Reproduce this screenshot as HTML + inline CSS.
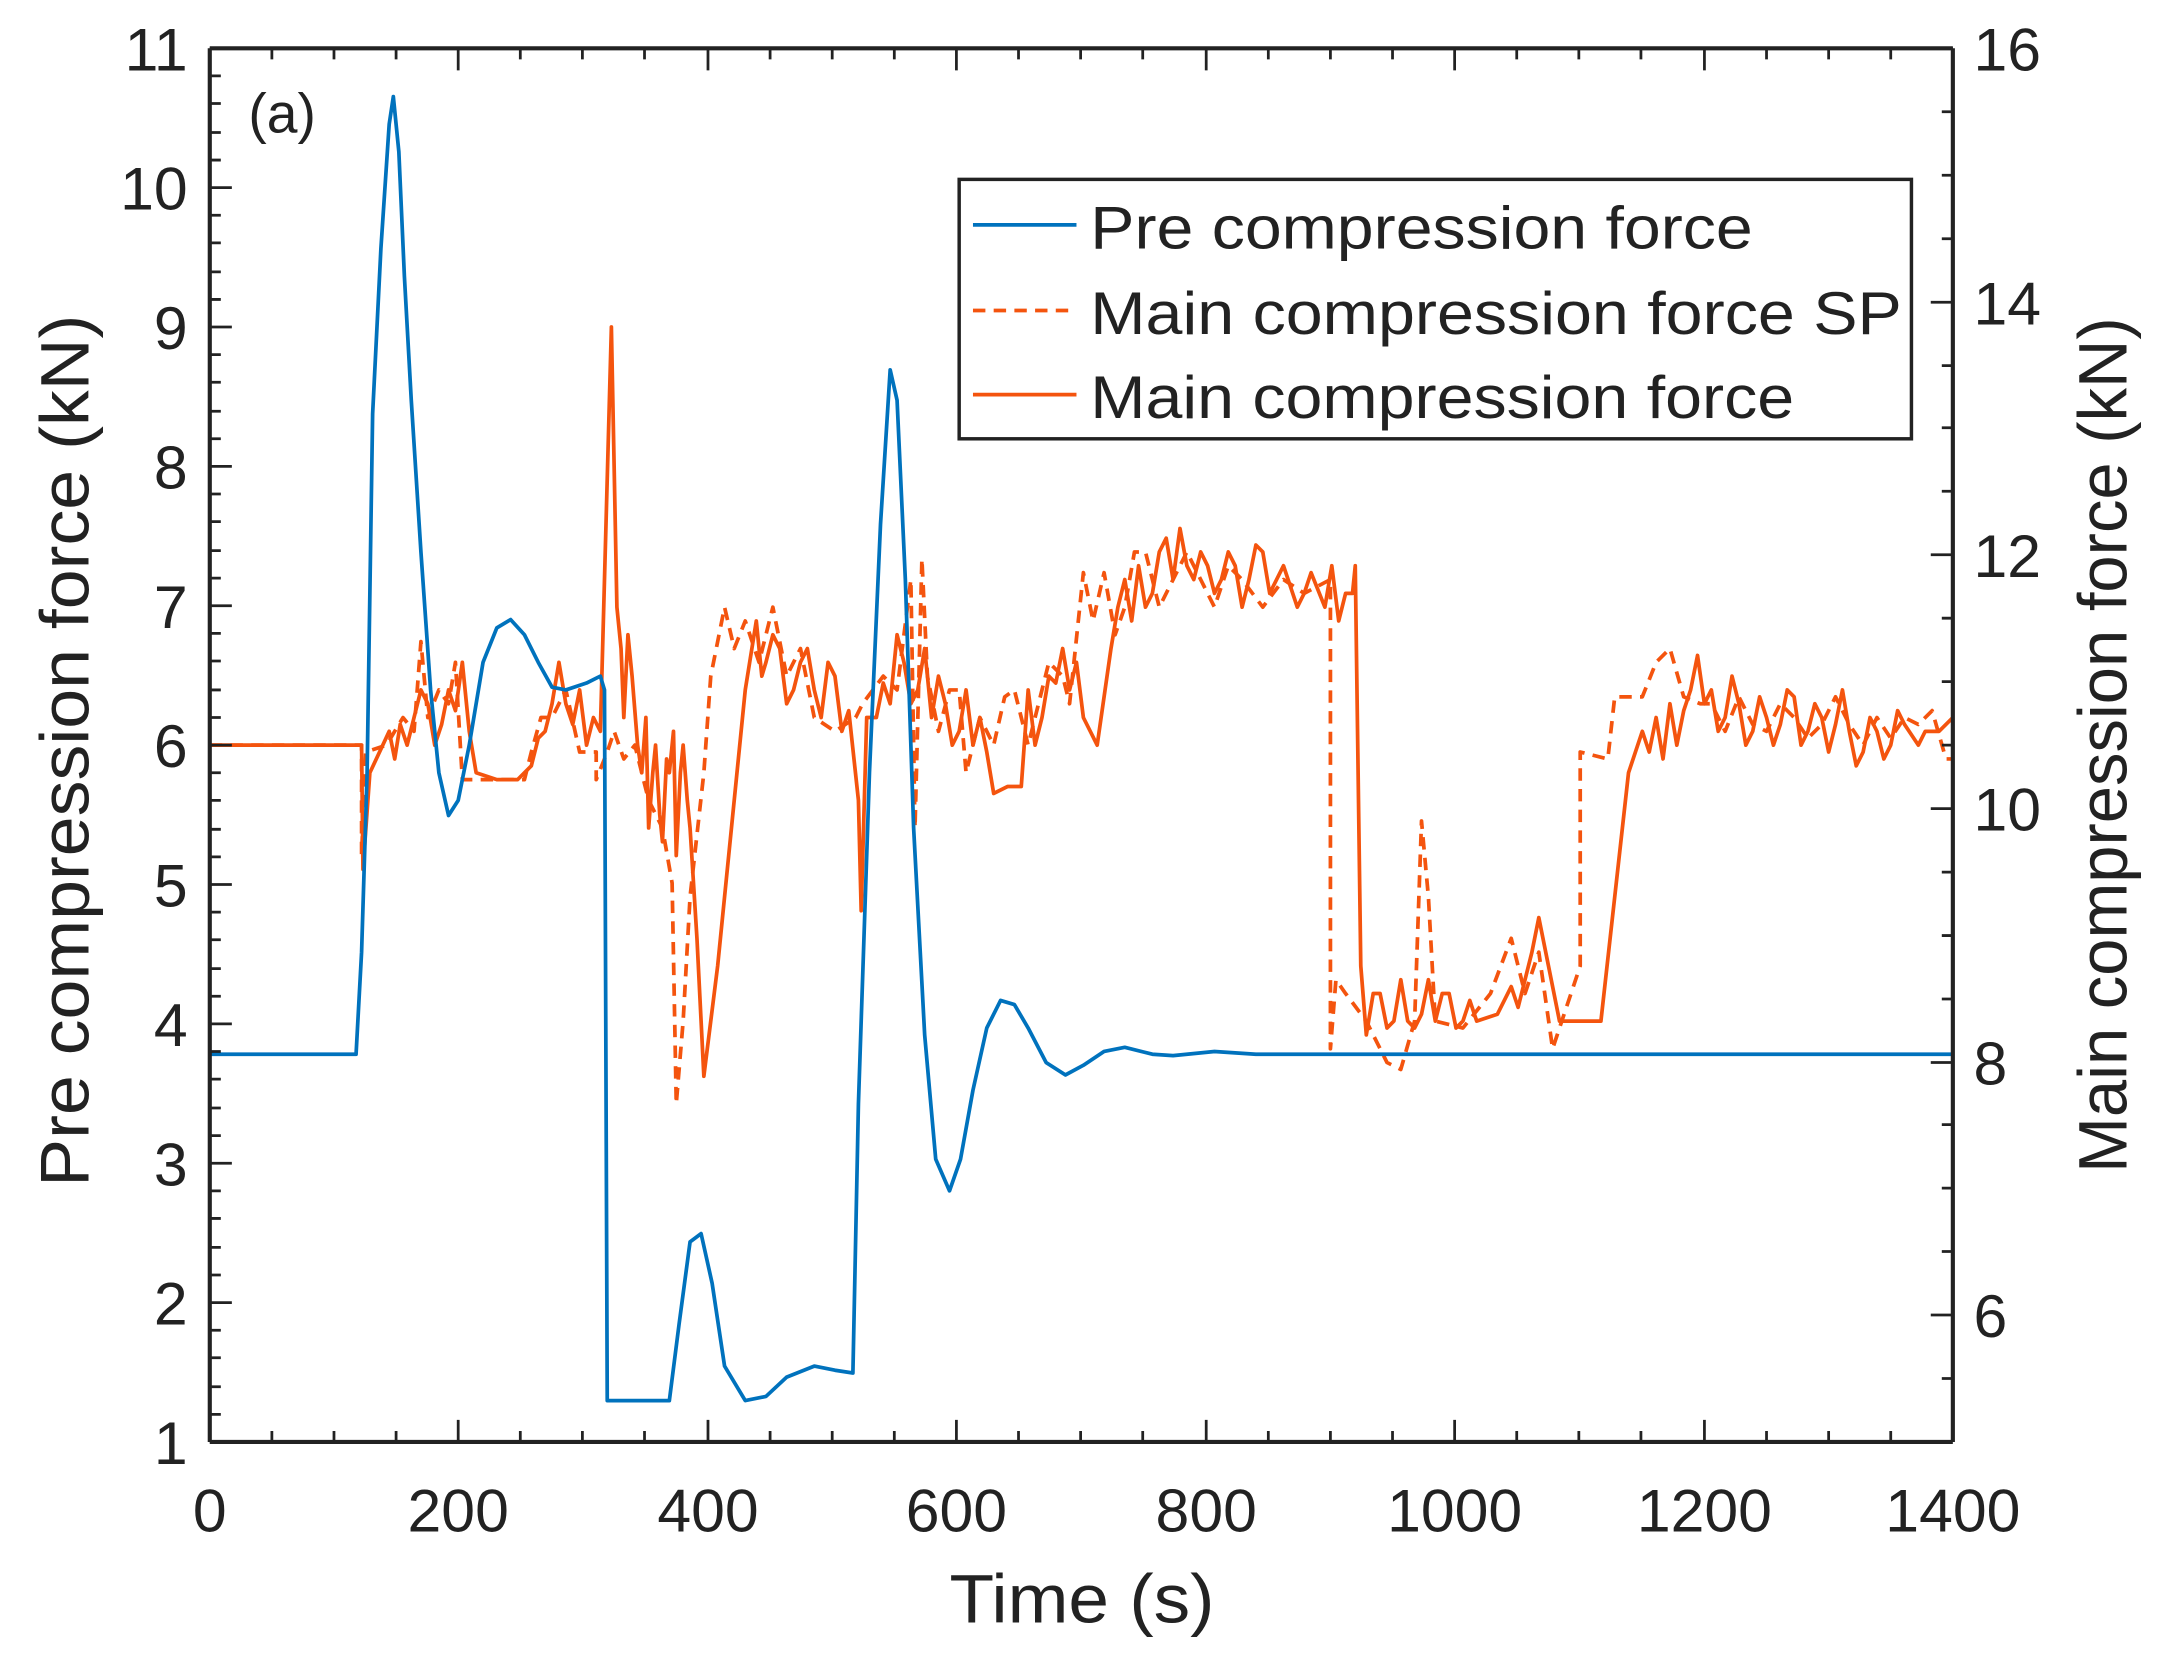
<!DOCTYPE html>
<html><head><meta charset="utf-8"><style>html,body{margin:0;padding:0;background:#fff}svg{display:block}</style></head>
<body>
<svg width="2164" height="1660" viewBox="0 0 1568 1203" preserveAspectRatio="none" xmlns="http://www.w3.org/2000/svg" font-family="Liberation Sans, Arial, sans-serif" fill="#222">
<rect width="1568" height="1203" fill="#fff"/>
<g fill="none" stroke-linejoin="round">
<polyline stroke="#F4540E" stroke-width="2.7" stroke-dasharray="9,6" points="152,540 262,540 262,620 265,545 280,540 292,520 300,530 305,465 310,520 318,500 325,510 330,480 335,565 380,565 385,545 392,520 400,520 410,500 420,545 432,545 432,565 440,545 445,530 452,550 460,540 470,580 480,600 487,640 490,800 495,740 500,650 510,560 515,490 525,440 532,470 540,450 550,480 560,440 570,490 580,470 590,520 605,530 620,520 625,510 640,490 650,500 660,420 663,600 668,405 672,490 680,530 688,500 695,500 700,560 710,520 720,540 728,505 735,500 745,540 750,520 760,480 770,490 775,510 785,415 792,450 800,415 808,460 815,440 822,400 830,400 840,440 850,420 860,400 870,420 880,440 890,410 900,420 915,440 930,420 945,430 964,420 964,760 968,710 975,720 990,740 1005,770 1015,775 1025,740 1030,595 1035,650 1040,740 1060,745 1080,720 1095,680 1105,720 1115,690 1125,760 1145,700 1145,545 1165,550 1170,505 1190,505 1200,480 1210,470 1220,505 1232,510 1240,510 1250,530 1260,505 1270,525 1280,530 1290,510 1300,520 1310,535 1320,525 1330,505 1340,525 1350,540 1360,520 1370,535 1380,520 1390,525 1400,515 1410,550 1415,550"/>
<polyline stroke="#F4540E" stroke-width="2.7" points="152,540 262,540 263,630 268,560 275,545 282,530 286,550 290,525 295,540 300,520 305,500 310,510 315,540 320,525 325,500 330,515 335,480 340,530 345,560 360,565 375,565 385,555 390,535 395,530 400,510 405,480 410,510 415,525 420,500 425,540 430,520 435,530 443,237 447,440 450,470 452,520 455,460 458,490 462,540 465,560 468,520 470,600 473,560 475,540 478,590 480,610 483,550 485,560 488,530 490,620 493,560 495,540 498,580 500,600 505,680 510,780 515,740 520,700 530,600 540,500 548,450 552,490 555,480 560,460 565,470 570,510 575,500 580,480 585,470 590,500 595,520 600,480 605,490 610,530 615,515 622,580 624,660 628,520 635,520 640,495 645,510 650,460 655,480 660,510 665,500 670,470 675,520 680,490 685,510 690,540 695,530 700,500 705,540 710,520 715,545 720,575 730,570 740,570 745,500 750,540 755,520 760,490 765,495 770,470 775,500 780,480 785,520 790,530 795,540 805,470 810,440 815,420 820,450 825,410 830,440 835,430 840,400 845,390 850,420 855,383 860,410 865,420 870,400 875,410 880,430 885,420 890,400 895,410 900,440 905,420 910,395 915,400 920,430 925,420 930,410 935,425 940,440 945,430 950,415 960,440 965,410 970,450 975,430 980,430 982,410 986,700 990,750 995,720 1000,720 1005,745 1010,740 1015,710 1020,740 1025,745 1030,735 1035,710 1040,740 1045,720 1050,720 1055,745 1060,740 1065,725 1070,740 1085,735 1095,715 1100,730 1110,690 1115,665 1122,700 1130,740 1145,740 1160,740 1170,650 1180,560 1190,530 1195,545 1200,520 1205,550 1210,510 1215,540 1220,515 1225,500 1230,475 1235,510 1240,500 1245,530 1250,520 1255,490 1260,510 1265,540 1270,530 1275,505 1280,520 1285,540 1290,525 1295,500 1300,505 1305,540 1310,530 1315,510 1320,520 1325,545 1330,525 1335,500 1340,530 1345,555 1350,545 1355,520 1360,530 1365,550 1370,540 1375,515 1380,525 1390,540 1395,530 1405,530 1415,520"/>
<polyline stroke="#0072BD" stroke-width="2.7" points="152,764 258,764 262,690 266,560 270,300 276,180 282,90 285,70 289,110 293,200 298,290 305,400 312,500 318,560 325,591 332,580 340,540 350,480 360,455 370,449 380,460 390,480 400,498 410,500 425,495 435,490 438,500 440,1015 485,1015 492,960 500,900 508,894 516,930 525,990 540,1015 555,1012 570,998 590,990 605,993 618,995 622,800 630,560 638,380 645,268 650,290 656,420 662,600 670,750 678,840 688,863 696,840 705,790 715,745 725,725 735,728 745,745 758,770 772,779 785,772 800,762 815,759 835,764 850,765 880,762 910,764 1415,764"/>
</g>
<g stroke="#222" stroke-width="2" fill="none">
<path d="M152 35V1045 M1415 35V1045 M152 35H1415 M152 1045H1415" stroke-width="3"/>
<path d="M152 35h16M152 136h16M152 237h16M152 338h16M152 439h16M152 540h16M152 641h16M152 742h16M152 843h16M152 944h16M152 1045h16"/>
<path d="M152 55h8M152 75h8M152 96h8M152 116h8M152 156h8M152 176h8M152 197h8M152 217h8M152 257h8M152 277h8M152 298h8M152 318h8M152 358h8M152 378h8M152 399h8M152 419h8M152 459h8M152 479h8M152 500h8M152 520h8M152 560h8M152 580h8M152 601h8M152 621h8M152 661h8M152 681h8M152 702h8M152 722h8M152 762h8M152 782h8M152 803h8M152 823h8M152 863h8M152 883h8M152 904h8M152 924h8M152 964h8M152 984h8M152 1005h8M152 1025h8"/>
<path d="M1415 953h-16M1415 770h-16M1415 586h-16M1415 402h-16M1415 219h-16M1415 35h-16"/>
<path d="M1415 999h-8M1415 907h-8M1415 861h-8M1415 815h-8M1415 724h-8M1415 678h-8M1415 632h-8M1415 540h-8M1415 494h-8M1415 448h-8M1415 356h-8M1415 310h-8M1415 265h-8M1415 173h-8M1415 127h-8M1415 81h-8"/>
<path d="M332 1045v-16M513 1045v-16M693 1045v-16M874 1045v-16M1054 1045v-16M1235 1045v-16M332 35v16M513 35v16M693 35v16M874 35v16M1054 35v16M1235 35v16"/>
<path d="M197 1045v-8M242 1045v-8M287 1045v-8M377 1045v-8M422 1045v-8M467 1045v-8M558 1045v-8M603 1045v-8M648 1045v-8M738 1045v-8M783 1045v-8M828 1045v-8M919 1045v-8M964 1045v-8M1009 1045v-8M1099 1045v-8M1144 1045v-8M1189 1045v-8M1280 1045v-8M1325 1045v-8M1370 1045v-8M197 35v8M242 35v8M287 35v8M377 35v8M422 35v8M467 35v8M558 35v8M603 35v8M648 35v8M738 35v8M783 35v8M828 35v8M919 35v8M964 35v8M1009 35v8M1099 35v8M1144 35v8M1189 35v8M1280 35v8M1325 35v8M1370 35v8"/>
</g>
<g font-size="44" text-anchor="end">
<text x="136" y="51">11</text><text x="136" y="152">10</text><text x="136" y="253">9</text><text x="136" y="354">8</text><text x="136" y="455">7</text><text x="136" y="556">6</text><text x="136" y="657">5</text><text x="136" y="758">4</text><text x="136" y="859">3</text><text x="136" y="960">2</text><text x="136" y="1061">1</text>
</g>
<g font-size="44" text-anchor="start">
<text x="1430" y="969">6</text><text x="1430" y="786">8</text><text x="1430" y="602">10</text><text x="1430" y="418">12</text><text x="1430" y="235">14</text><text x="1430" y="51">16</text>
</g>
<g font-size="44" text-anchor="middle">
<text x="152" y="1110">0</text><text x="332" y="1110">200</text><text x="513" y="1110">400</text><text x="693" y="1110">600</text><text x="874" y="1110">800</text><text x="1054" y="1110">1000</text><text x="1235" y="1110">1200</text><text x="1415" y="1110">1400</text>
</g>
<text x="688" y="1176" font-size="50" textLength="192" lengthAdjust="spacingAndGlyphs">Time (s)</text>
<text transform="translate(64,860) rotate(-90)" font-size="50" textLength="632" lengthAdjust="spacingAndGlyphs">Pre compression force (kN)</text>
<text transform="translate(1541,850) rotate(-90)" font-size="50" textLength="620" lengthAdjust="spacingAndGlyphs">Main compression force (kN)</text>
<text x="180" y="96" font-size="40">(a)</text>
<rect x="695" y="130" width="690" height="188" fill="#fff" stroke="#222" stroke-width="2.5"/>
<line x1="705" y1="163" x2="780" y2="163" stroke="#0072BD" stroke-width="2.7"/>
<line x1="705" y1="225" x2="780" y2="225" stroke="#F4540E" stroke-width="2.7" stroke-dasharray="9,6"/>
<line x1="705" y1="286" x2="780" y2="286" stroke="#F4540E" stroke-width="2.7"/>
<g font-size="44">
<text x="790" y="180" textLength="480" lengthAdjust="spacingAndGlyphs">Pre compression force</text>
<text x="790" y="242" textLength="588" lengthAdjust="spacingAndGlyphs">Main compression force SP</text>
<text x="790" y="303" textLength="510" lengthAdjust="spacingAndGlyphs">Main compression force</text>
</g>
</svg>
</body></html>
